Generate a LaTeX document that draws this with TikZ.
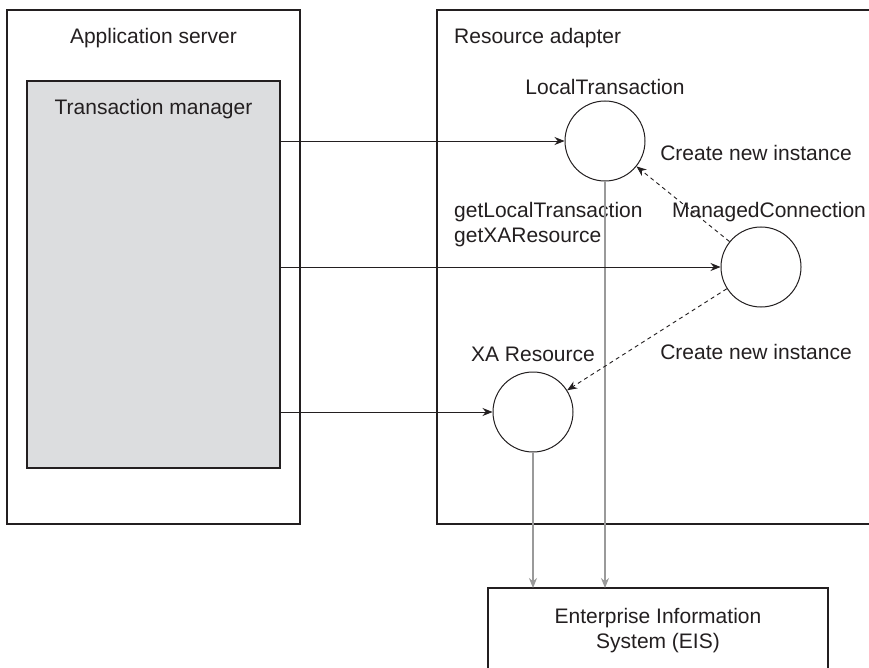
\documentclass[tikz,border=0pt]{standalone}
\usepackage{fontspec}
\setmainfont{Liberation Sans}
\usetikzlibrary{arrows.meta}
\definecolor{ink}{HTML}{231F20}
\definecolor{tmfill}{HTML}{DCDDDF}
\definecolor{eisline}{HTML}{9A9A9A}
\begin{document}
\begin{tikzpicture}[x=1pt,y=-1pt,
  txt/.style={font=\fontsize{21}{25}\selectfont, text=ink, inner sep=0pt},
  boxline/.style={draw=ink, line width=1.1pt},
  circ/.style={circle, draw=ink, line width=1pt, minimum size=80pt, inner sep=0pt},
  call/.style={draw=ink, line width=0.9pt, -{Stealth[length=10pt,width=8pt]}},
  create/.style={draw=ink, line width=0.9pt, dash pattern=on 4pt off 3.5pt, -{Stealth[length=10pt,width=8pt]}},
  toeis/.style={draw=eisline, line width=1.2pt, -{Stealth[length=10pt,width=8pt]}}]
\useasboundingbox (0,0) rectangle (869,668);
\fill[white] (0,0) rectangle (869,668);

% Application server
\draw[boxline] (7,10) rectangle (300,524);
\node[txt] (appt) at (153.5,38) {Application server};
\node[boxline, fill=tmfill, rectangle, minimum width=253pt, minimum height=387pt, inner sep=0pt] (tm) at (153.5,274.5) {};
\node[txt] (tmt) at (153.5,109) {Transaction manager};

% Resource adapter (open at the right)
\draw[boxline] (869,10) -- (437,10) -- (437,524) -- (869,524);
\node[txt, anchor=west] (rat) at (454,38) {Resource adapter};

% EIS (open at the bottom)
\draw[boxline] (488,668) -- (488,588) -- (828,588) -- (828,668);
\coordinate (eistop) at (658,588);
\node[txt, align=center] (eist) at (658,631) {Enterprise Information\\System (EIS)};

% circles
\node[circ] (lt) at (605,141) {};
\node[circ] (mc) at (761,267) {};
\node[circ] (xa) at (533,412) {};

\node[txt] (ltt) at (605,87) {LocalTransaction};
\node[txt] (mct) at (769,212) {ManagedConnection};
\node[txt] (xat) at (533,354) {XA Resource};
\node[txt] (cn1) at (756,153) {Create new instance};
\node[txt] (cn2) at (756,352) {Create new instance};
\node[txt, anchor=west, align=left] (gt) at (454,225) {getLocalTransaction\\getXAResource};

% gray arrows to EIS
\draw[toeis] (lt.south) -- (lt.south |- eistop);
\draw[toeis] (xa.south) -- (xa.south |- eistop);

% calls from transaction manager
\draw[call] (tm.east |- lt.west) -- (lt.west);
\draw[call] (tm.east |- mc.west) -- (mc.west);
\draw[call] (tm.east |- xa.west) -- (xa.west);

% create new instance
\draw[create] (mc) -- (lt);
\draw[create] (mc) -- (xa);
\end{tikzpicture}
\end{document}
